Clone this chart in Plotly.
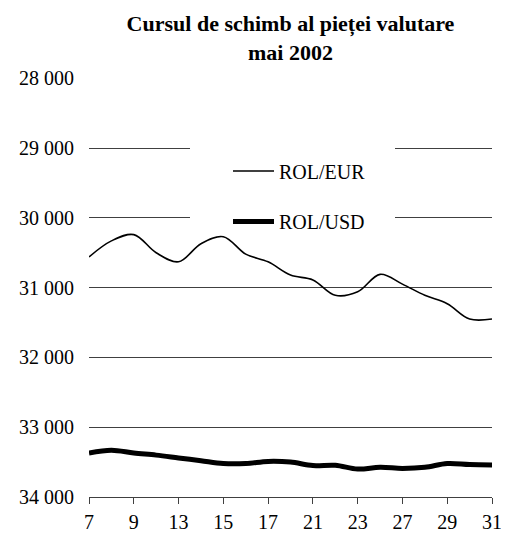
import plotly.graph_objects as go

dates = ['7', '8', '9', '10', '13', '14', '15', '16', '17', '20',
         '21', '22', '23', '24', '27', '28', '29', '30', '31']
rol_eur = [30560, 30330, 30240, 30500, 30630, 30370, 30270, 30520, 30630, 30820,
           30890, 31110, 31060, 30810, 30950, 31110, 31230, 31450, 31450]
rol_usd = [33370, 33330, 33370, 33400, 33440, 33480, 33520, 33520, 33490, 33500,
           33550, 33545, 33600, 33575, 33590, 33575, 33520, 33535, 33540]
y_ticks = [28000, 29000, 30000, 31000, 32000, 33000, 34000]
x_ticks = ['7', '9', '13', '15', '17', '21', '23', '27', '29', '31']

FONT = "Liberation Serif, Times New Roman, serif"
GRID = "#404040"

# the page body has an 8px margin, so the figure is 8px smaller than the window
W, H = 501, 526
L, R, T, B = 81, 17, 70, 37
PW, PH = W - L - R, H - T - B

fig = go.Figure()
fig.add_trace(go.Scatter(x=dates, y=rol_eur, name="ROL/EUR", mode="lines",
                         line=dict(color="black", width=1.6, shape="spline", smoothing=1),
                         legendgroup="a"))
fig.add_trace(go.Scatter(x=dates, y=rol_usd, name="ROL/USD", mode="lines",
                         line=dict(color="black", width=5, shape="spline", smoothing=1),
                         legendgroup="b"))

# white legend box that interrupts the gridlines
fig.add_shape(type="rect", xref="paper", yref="paper", layer="above",
              x0=(190 - 89) / PW, x1=(395 - 89) / PW,
              y0=(497 - 231) / PH, y1=(497 - 140) / PH,
              fillcolor="white", line=dict(width=0))

fig.update_layout(
    template="none",
    width=W, height=H,
    margin=dict(l=L, r=R, t=T, b=B, autoexpand=False),
    paper_bgcolor="white", plot_bgcolor="white",
    separators=". ",
    font=dict(family=FONT, size=20, color="black"),
    title=dict(text="<b>Cursul de schimb al pieței valutare<br>mai 2002</b>",
               x=(290.5 - 8) / W, xanchor="center", xref="container",
               y=1 - 23 / H, yanchor="top", yref="container",
               font=dict(family=FONT, size=22, color="black")),
    showlegend=True,
    legend=dict(x=(228 - 89) / PW, xanchor="left",
                y=(497 - 151.5) / PH, yanchor="top",
                bgcolor="rgba(0,0,0,0)", borderwidth=0,
                traceorder="grouped", tracegroupgap=21.5,
                font=dict(family=FONT, size=20, color="black"),
                itemwidth=41),
    xaxis=dict(type="category", categoryorder="array", categoryarray=dates,
               range=[0, len(dates) - 1], automargin=False,
               tickmode="array", tickvals=x_ticks, ticktext=x_ticks,
               ticks="outside", ticklen=6, tickcolor=GRID, tickwidth=1,
               showline=True, linecolor=GRID, linewidth=1,
               showgrid=False, zeroline=False,
               ticklabelstandoff=1,
               tickfont=dict(family=FONT, size=20, color="black")),
    yaxis=dict(range=[34000, 27996], tickmode="array", tickvals=y_ticks,
               automargin=False,
               tickformat=",d", showgrid=True, gridcolor=GRID, gridwidth=1,
               zeroline=False, showline=False, ticks="",
               ticklabelstandoff=14,
               tickfont=dict(family=FONT, size=20, color="black")),
)

fig.write_html("out.html")
